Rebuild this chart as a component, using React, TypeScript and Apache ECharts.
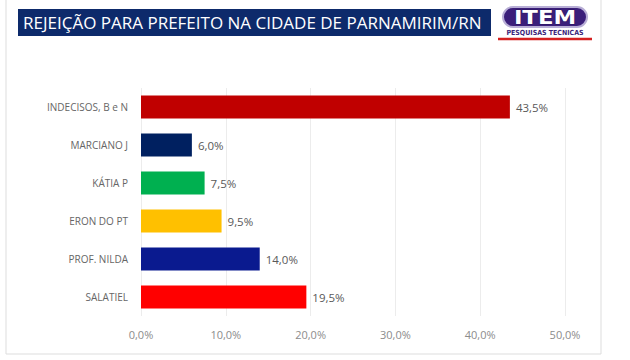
import React, { useEffect, useRef } from "react";
import * as echarts from "echarts";

const categories = ["INDECISOS, B e N", "MARCIANO J", "KÁTIA P", "ERON DO PT", "PROF. NILDA", "SALATIEL"];
const values = [43.5, 6.0, 7.5, 9.5, 14.0, 19.5];
const barColors = ["#C00000", "#002060", "#00B050", "#FFC000", "#0A1A8F", "#FF0000"];
const title = "REJEIÇÃO PARA PREFEITO NA CIDADE DE PARNAMIRIM/RN";

const fmt = (v: number) => v.toFixed(1).replace(".", ",") + "%";

export default function App() {
  const ref = useRef<HTMLDivElement>(null);
  useEffect(() => {
    if (!ref.current) return;
    const chart = echarts.init(ref.current, null, { renderer: "svg" });
    chart.setOption({
      animation: false,
      backgroundColor: "#ffffff",
      textStyle: { fontFamily: "'Open Sans', 'Noto Sans', sans-serif" },
      grid: { left: 141, right: 65, top: 88, bottom: 44, containLabel: false },
      xAxis: {
        type: "value",
        min: 0,
        max: 50,
        interval: 10,
        axisLine: { show: false },
        axisTick: { show: false },
        splitLine: { lineStyle: { color: "#ececec", width: 1 } },
        axisLabel: {
          color: "#8c8c8c",
          fontSize: 11,
          margin: 13,
          formatter: (v: number) => fmt(v),
        },
      },
      yAxis: {
        type: "category",
        data: categories,
        inverse: true,
        axisLine: { show: false },
        axisTick: { show: false },
        axisLabel: { color: "#666666", fontSize: 10, margin: 13 },
      },
      series: [
        {
          type: "bar",
          data: values.map((v, i) => ({ value: v, itemStyle: { color: barColors[i] } })),
          barWidth: 23,
          label: {
            show: true,
            position: "right",
            distance: 6,
            color: "#595959",
            fontSize: 11.5,
            formatter: (p: any) => fmt(p.value),
          },
        },
      ],
      graphic: [
        {
          type: "rect",
          z: -10,
          shape: { x: 6, y: -2, width: 595, height: 356 },
          style: { fill: "none", stroke: "#dddddd", lineWidth: 1 },
        },
        {
          type: "rect",
          shape: { x: 18, y: 9, width: 473, height: 27 },
          style: { fill: "#0D2A6B" },
        },
        {
          type: "text",
          x: 23,
          y: 22.5,
          style: {
            text: title,
            fill: "#ffffff",
            fontSize: 17,
            fontFamily: "'Open Sans', sans-serif",
            verticalAlign: "middle",
          },
        },
        {
          type: "rect",
          shape: { x: 503, y: 7, width: 84, height: 20, r: 10 },
          style: { fill: "#3B1F7A", stroke: "#B8AED6", lineWidth: 2 },
        },
        {
          type: "text",
          x: 545,
          y: 17.5,
          scaleX: 1.2,
          style: {
            text: "ITEM",
            fill: "#ffffff",
            fontSize: 19,
            fontWeight: "bold",
            fontFamily: "'DejaVu Sans', sans-serif",
            align: "center",
            verticalAlign: "middle",
            stroke: "#2A1460",
            lineWidth: 1,
          },
        },
        {
          type: "text",
          x: 545,
          y: 32.5,
          style: {
            text: "PESQUISAS TECNICAS",
            fill: "#3B1F7A",
            fontSize: 7,
            fontWeight: "bold",
            fontFamily: "'DejaVu Sans Condensed', 'Liberation Sans Narrow', sans-serif",
            align: "center",
            verticalAlign: "middle",
          },
        },
        {
          type: "line",
          shape: { x1: 498, y1: 39, x2: 592, y2: 39 },
          style: { stroke: "#D42020", lineWidth: 2.5 },
        },
      ],
    });
    return () => chart.dispose();
  }, []);
  return (
    <div
      ref={ref}
      style={{ position: "fixed", left: 0, top: 0, width: 630, height: 360 }}
    />
  );
}
